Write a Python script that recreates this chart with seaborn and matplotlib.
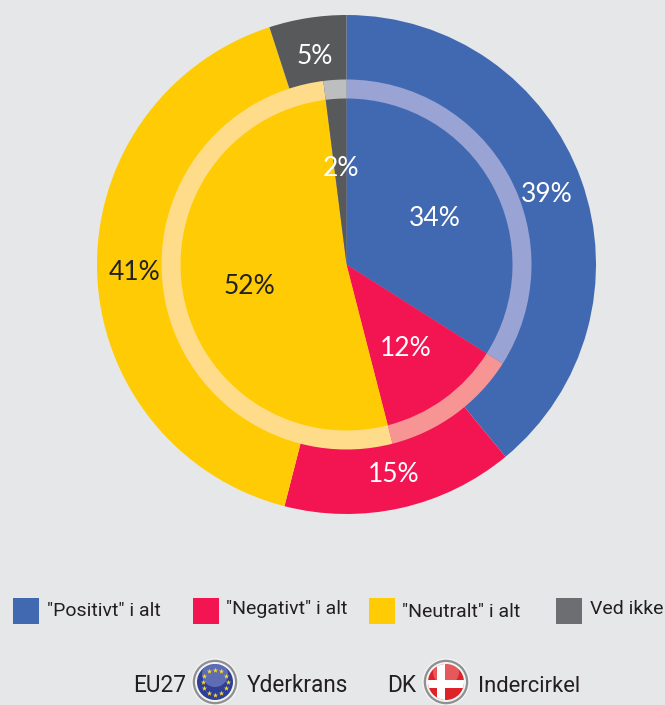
import matplotlib
matplotlib.use("Agg")
import matplotlib.pyplot as plt
from matplotlib.patches import Rectangle, Circle
import seaborn as sns
import numpy as np

# Data
categories = ['"Positivt" i alt', '"Negativt" i alt', '"Neutralt" i alt', 'Ved ikke']
eu27_values = [39, 15, 41, 5]
dk_values = [34, 12, 52, 2]

main_colors = ['#4169B2', '#F21552', '#FFCB05', '#58595B']
ring_colors = ['#99A3D4', '#F79594', '#FFDC8A', '#BDBEC0']
legend_colors = ['#4169B2', '#F21552', '#FFCB05', '#6D6E71']
bg = '#E6E7E9'

NARROW = ['Roboto', 'Liberation Sans', 'DejaVu Sans']
PCT = ['Lato', 'DejaVu Sans']
W, H = 665, 705


def py(y):
    # picture rows run downwards, the axes upwards
    return H - y


def flag(ax, cx, cy, kind):
    ax.add_patch(Circle((cx, py(cy)), 23, fc='#8E9092', ec='#F4F4F4', lw=1, zorder=5))
    ax.add_patch(Circle((cx, py(cy)), 20, fc='#F4F4F4', ec='none', zorder=6))
    if kind == 'EU':
        disc = Circle((cx, py(cy)), 18, fc='#2F3F96', ec='none', zorder=7)
        ax.add_patch(disc)
        shine = Circle((cx, py(cy) + 8), 13, fc='#8692CC', ec='none', alpha=0.55, zorder=8)
        ax.add_patch(shine)
        shine.set_clip_path(disc)
        ang = np.arange(12) * np.pi / 6
        ax.scatter(cx + 12.5 * np.cos(ang), py(cy) + 12.5 * np.sin(ang), marker='*', s=16,
                   c='#FFD91A', linewidths=0, zorder=9)
    else:
        disc = Circle((cx, py(cy)), 18, fc='#DD2228', ec='none', zorder=7)
        ax.add_patch(disc)
        shine = Circle((cx, py(cy) + 10), 13, fc='white', ec='none', alpha=0.25, zorder=8)
        ax.add_patch(shine)
        shine.set_clip_path(disc)
        for r in [Rectangle((cx - 9, py(cy) - 20), 8, 40, fc='white', ec='none', zorder=9),
                  Rectangle((cx - 20, py(cy) - 6), 40, 8, fc='white', ec='none', zorder=9)]:
            ax.add_patch(r)
            r.set_clip_path(disc)


def main():
    sns.set_theme(style="white")
    palette = sns.color_palette(main_colors)
    ring_palette = sns.color_palette(ring_colors)

    fig = plt.figure(figsize=(W / 100, H / 100), dpi=100, facecolor=bg)
    ax = fig.add_axes([0, 0, 1, 1])
    ax.set_facecolor(bg)

    center = (346.5, py(264.5))
    edge = dict(edgecolor='none', linewidth=0)
    ax.pie(eu27_values, colors=palette, startangle=90, counterclock=False,
           radius=249.5, center=center, frame=True, wedgeprops=edge)
    ax.pie(dk_values, colors=ring_palette, startangle=90, counterclock=False,
           radius=185, center=center, frame=True, wedgeprops=edge)
    ax.pie(dk_values, colors=palette, startangle=90, counterclock=False,
           radius=166, center=center, frame=True, wedgeprops=edge)

    ax.set_xlim(0, W)
    ax.set_ylim(0, H)
    ax.set_aspect('equal')
    ax.axis('off')

    # percentage labels
    eu_pos = [(547, 195), (394, 474), (135, 273), (315, 57)]
    dk_pos = [(435, 218), (406, 348), (249, 286), (341, 168)]
    eu_col = ['white', 'white', '#222222', 'white']
    dk_col = ['white', 'white', '#222222', 'white']
    for vals, pos, cols in [(eu27_values, eu_pos, eu_col), (dk_values, dk_pos, dk_col)]:
        for v, (x, y), c in zip(vals, pos, cols):
            ax.text(x, py(y), f'{v}%', ha='center', va='center', fontsize=19,
                    color=c, family=PCT, zorder=4)

    # legend
    box_x = [13, 193, 369, 556]
    text_x = [47, 226, 402, 590]
    text_y = [611, 609, 612, 609]
    for name, col, bx, tx, ty in zip(categories, legend_colors, box_x, text_x, text_y):
        ax.add_patch(Rectangle((bx, py(624)), 26, 26, fc=col, ec='none'))
        ax.text(tx, py(ty), name, ha='left', va='center', fontsize=14,
                color='#231F20', family=NARROW)

    # bottom key
    for label, x, size in [('EU27', 133, 16.3), ('Yderkrans', 247, 16.3),
                           ('DK', 387, 16.3), ('Indercirkel', 478, 15.8)]:
        ax.text(x, py(686), label, ha='left', va='center', fontsize=size,
                color='#231F20', family=NARROW)
    flag(ax, 215, 682, 'EU')
    flag(ax, 446, 682, 'DK')

    fig.savefig('out.png', dpi=100, facecolor=bg)


if __name__ == "__main__":
    main()
